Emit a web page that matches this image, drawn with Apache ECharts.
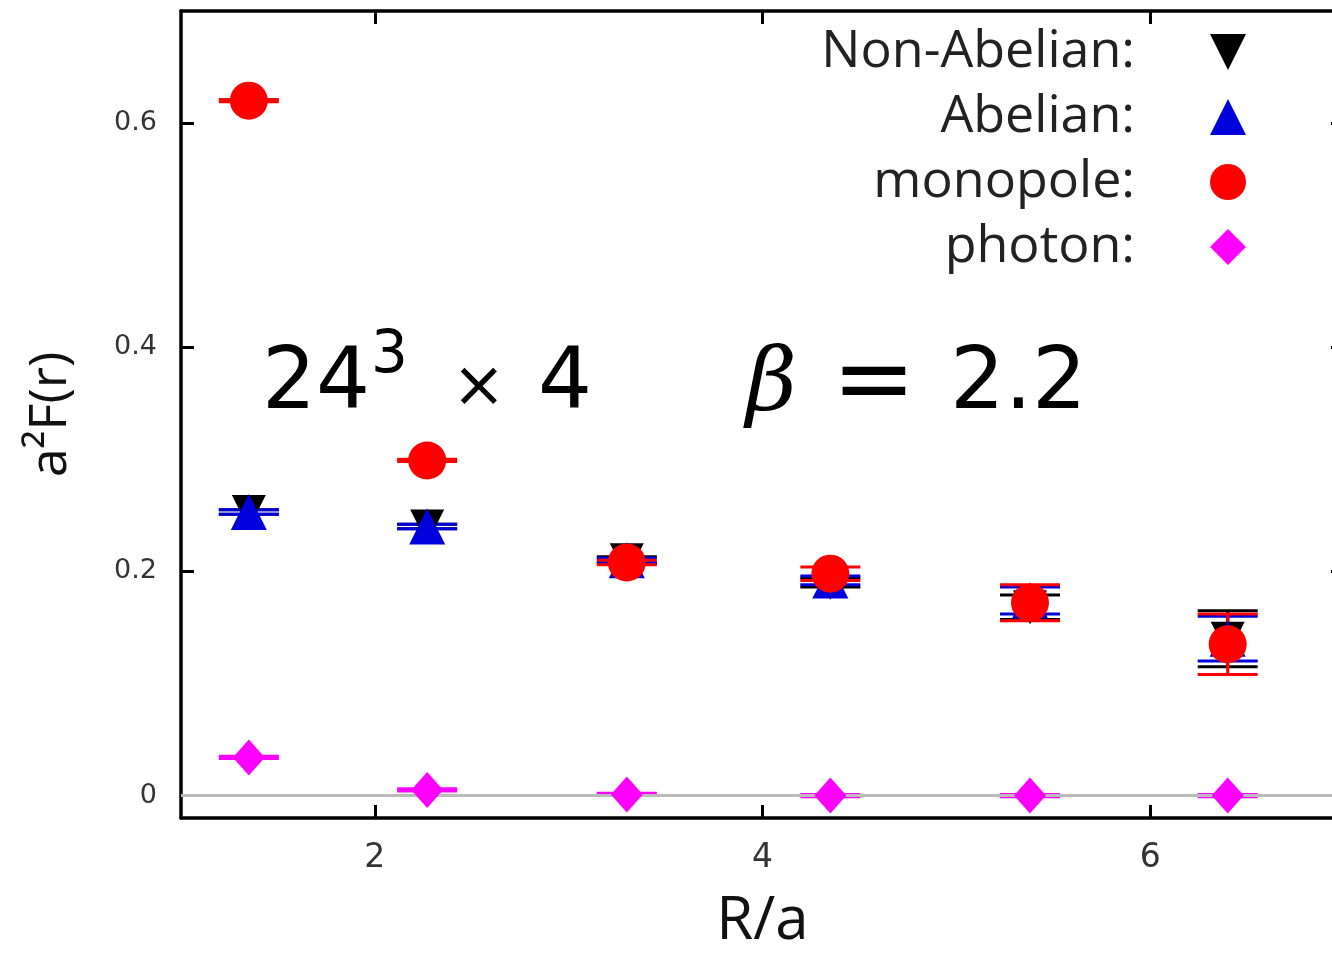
<!DOCTYPE html>
<html>
<head>
<meta charset="utf-8">
<script src="https://cdn.jsdelivr.net/npm/echarts@6/dist/echarts.min.js"></script>
<style>
  html, body { margin: 0; padding: 0; background: #fff; }
  #chart { width: 1332px; height: 957px; }
</style>
</head>
<body>
<div id="chart"></div>
<script>
// R/a positions of the measurements
const rOverA = [1.35, 2.27, 3.30, 4.35, 5.38, 6.40];

// a^2 F(r) per operator, with errors
const nonAbelian    = [0.253, 0.240, 0.210, 0.190, 0.168, 0.140];
const nonAbelianErr = [0.002, 0.002, 0.003, 0.004, 0.011, 0.025];
const abelian       = [0.253, 0.240, 0.210, 0.192, 0.174, 0.140];
const abelianErr    = [0.002, 0.002, 0.002, 0.004, 0.012, 0.020];
const monopole      = [0.620, 0.299, 0.208, 0.198, 0.172, 0.135];
const monopoleErr   = [0.001, 0.001, 0.002, 0.006, 0.016, 0.027];
const photon        = [0.034, 0.005, 0.001, 0.000, 0.000, 0.000];
const photonErr     = [0.001, 0.001, 0.001, 0.001, 0.001, 0.001];

const xTicks = [2, 4, 6];
const yTicks = [0, 0.2, 0.4, 0.6];

const chart = echarts.init(document.getElementById('chart'));

// downward triangle, so the legend icon gets the same shape
const downTriangle = 'path://M0,0 L2,0 L1,2 Z';

function points(values) {
  return rOverA.map((r, i) => [r, values[i]]);
}

function errorBars(name, values, errors, color, extra) {
  return Object.assign({
    type: 'custom',
    name: name,
    z: 2,
    silent: true,
    data: rOverA.map((r, i) => [r, values[i] - errors[i], values[i] + errors[i]]),
    encode: { x: 0, y: [1, 2] },
    renderItem: function (params, api) {
      const lo = api.coord([api.value(0), api.value(1)]);
      const hi = api.coord([api.value(0), api.value(2)]);
      const hw = 30;
      const style = { stroke: color, lineWidth: 3 };
      return {
        type: 'group',
        children: [
          { type: 'line', shape: { x1: lo[0], y1: lo[1], x2: hi[0], y2: hi[1] }, style: style },
          { type: 'line', shape: { x1: lo[0] - hw, y1: lo[1], x2: lo[0] + hw, y2: lo[1] }, style: style },
          { type: 'line', shape: { x1: hi[0] - hw, y1: hi[1], x2: hi[0] + hw, y2: hi[1] }, style: style }
        ]
      };
    }
  }, extra || {});
}

const axisLineStyle = { color: '#000', width: 3.5 };
const tickStyle = { show: true, inside: true, length: 13, lineStyle: { color: '#000', width: 3 } };

const option = {
  backgroundColor: '#fff',
  animation: false,
  grid: { left: 181, top: 11, right: -12, bottom: 139, outerBoundsMode: 'none' },
  xAxis: [
    {
      type: 'value', min: 1, max: 7,
      axisLine: { onZero: false, lineStyle: axisLineStyle },
      axisTick: Object.assign({ customValues: xTicks }, tickStyle),
      axisLabel: { customValues: xTicks, fontSize: 33, color: '#333', margin: 24, fontFamily: 'DejaVu Sans' },
      splitLine: { show: false },
      name: 'R/a', nameLocation: 'middle', nameGap: 74,
      nameTextStyle: { fontSize: 60, color: '#111', fontFamily: 'Open Sans' }
    },
    {
      type: 'value', min: 1, max: 7, position: 'top',
      axisLine: { onZero: false, lineStyle: axisLineStyle },
      axisTick: Object.assign({ customValues: xTicks }, tickStyle),
      axisLabel: { show: false },
      splitLine: { show: false }
    }
  ],
  yAxis: [
    {
      type: 'value', min: -0.02, max: 0.7,
      axisLine: { onZero: false, lineStyle: axisLineStyle },
      axisTick: Object.assign({ customValues: yTicks }, tickStyle),
      axisLabel: { customValues: yTicks, fontSize: 27, color: '#333', margin: 24, fontFamily: 'DejaVu Sans' },
      splitLine: { show: false },
      name: 'a²F(r)', nameLocation: 'middle', nameGap: 104,
      nameTextStyle: { fontSize: 52, color: '#111', fontFamily: 'Open Sans' }
    },
    {
      type: 'value', min: -0.02, max: 0.7, position: 'right',
      axisLine: { onZero: false, lineStyle: axisLineStyle },
      axisTick: Object.assign({ customValues: yTicks }, tickStyle),
      axisLabel: { show: false },
      splitLine: { show: false }
    }
  ],
  legend: {
    orient: 'vertical',
    right: 81,
    top: 21,
    align: 'right',
    itemWidth: 36,
    itemHeight: 36,
    itemGap: 13,
    data: ['Non-Abelian:', 'Abelian:', 'monopole:', 'photon:'],
    textStyle: {
      fontSize: 52, lineHeight: 52, color: '#222', fontFamily: 'Open Sans',
      width: 340, align: 'right', padding: [0, 70, 0, 0]
    }
  },
  graphic: [
    { type: 'text', left: 262, top: 343, style: { text: '24', fontSize: 85, fontFamily: 'DejaVu Sans', fill: '#000' } },
    { type: 'text', left: 371, top: 328, style: { text: '3', fontSize: 58, fontFamily: 'DejaVu Sans', fill: '#000' } },
    { type: 'text', left: 452, top: 357, style: { text: '×', fontSize: 64, fontFamily: 'DejaVu Sans', fill: '#000' } },
    { type: 'text', left: 538, top: 343, style: { text: '4', fontSize: 85, fontFamily: 'DejaVu Sans', fill: '#000' } },
    { type: 'text', left: 746, top: 343, style: { text: 'β', fontSize: 88, fontStyle: 'italic', fontFamily: 'DejaVu Serif', fill: '#000' } },
    { type: 'text', left: 832, top: 336, style: { text: '=', fontSize: 100, fontFamily: 'DejaVu Sans', fill: '#000' } },
    { type: 'text', left: 950, top: 343, style: { text: '2.2', fontSize: 86, fontFamily: 'DejaVu Sans', fill: '#000' } }
  ],
  series: [
    errorBars('nonAbelianErr', nonAbelian, nonAbelianErr, '#000', {
      markLine: {
        silent: true, symbol: 'none', label: { show: false },
        lineStyle: { color: '#bbb', width: 3, type: 'solid' },
        data: [{ yAxis: 0 }]
      }
    }),
    errorBars('abelianErr', abelian, abelianErr, '#0000dd'),
    errorBars('monopoleErr', monopole, monopoleErr, '#ff0000'),
    errorBars('photonErr', photon, photonErr, '#ff00ff'),
    {
      name: 'Non-Abelian:', type: 'scatter', z: 3,
      symbol: downTriangle, symbolSize: 34,
      itemStyle: { color: '#000', opacity: 1 },
      data: points(nonAbelian)
    },
    {
      name: 'Abelian:', type: 'scatter', z: 4,
      symbol: 'triangle', symbolSize: 36,
      itemStyle: { color: '#0000dd', opacity: 1 },
      data: points(abelian)
    },
    {
      name: 'monopole:', type: 'scatter', z: 5,
      symbol: 'circle', symbolSize: 38,
      itemStyle: { color: '#ff0000', opacity: 1 },
      data: points(monopole)
    },
    {
      name: 'photon:', type: 'scatter', z: 6,
      symbol: 'diamond', symbolSize: [32, 36],
      itemStyle: { color: '#ff00ff', opacity: 1 },
      data: points(photon)
    }
  ]
};

chart.setOption(option);
</script>
</body>
</html>
